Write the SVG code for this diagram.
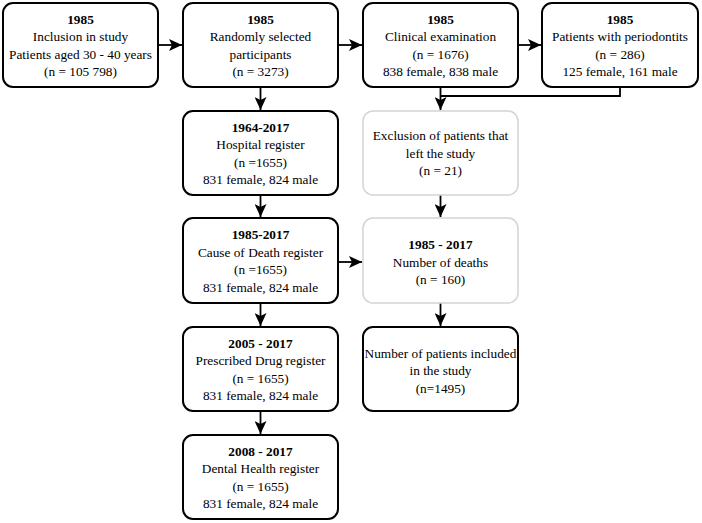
<svg xmlns="http://www.w3.org/2000/svg" width="702" height="523" viewBox="0 0 702 523">
<style>
.b{fill:#fff;stroke:#000;stroke-width:2}
.g{fill:#fff;stroke:#d4d4d4;stroke-width:1.5}
text{font-family:"Liberation Serif","Times New Roman",serif;font-size:13.3px;fill:#000;text-anchor:middle}
.h{font-weight:bold}
.c{fill:none;stroke:#000;stroke-width:1.8}
</style>
<defs>
<marker id="ah" markerUnits="userSpaceOnUse" markerWidth="14" markerHeight="12" refX="13" refY="6" orient="auto">
<path d="M0,0 L13,6 L0,12 L3,6 z" fill="#000"/>
</marker>
</defs>
<rect width="702" height="523" fill="#fff"/>
<g id="connectors">
<path class="c" d="M158,45 H182" marker-end="url(#ah)"/>
<path class="c" d="M338,45 H362" marker-end="url(#ah)"/>
<path class="c" d="M517,45 H541" marker-end="url(#ah)"/>
<path class="c" d="M620,87 V96 H440.5"/>
<path class="c" d="M440.5,87 V110" marker-end="url(#ah)"/>
<path class="c" d="M260.5,87 V110" marker-end="url(#ah)"/>
<path class="c" d="M260.5,195 V217" marker-end="url(#ah)"/>
<path class="c" d="M260.5,303 V326" marker-end="url(#ah)"/>
<path class="c" d="M260.5,411 V434" marker-end="url(#ah)"/>
<path class="c" d="M440.5,195 V217" marker-end="url(#ah)"/>
<path class="c" d="M440.5,303 V326" marker-end="url(#ah)"/>
<path class="c" d="M338,262 H362" marker-end="url(#ah)"/>
</g>
<g id="n1">
<rect class="b" x="3" y="3" width="155" height="84" rx="10"/>
<text x="80.5" y="23.5" class="h">1985</text>
<text x="80.5" y="41">Inclusion in study</text>
<text x="80.5" y="58.5">Patients aged 30 - 40 years</text>
<text x="80.5" y="76">(n = 105 798)</text>
</g>
<g id="n2">
<rect class="b" x="183" y="3" width="155" height="84" rx="10"/>
<text x="260.5" y="23.5" class="h">1985</text>
<text x="260.5" y="41">Randomly selected</text>
<text x="260.5" y="58.5">participants</text>
<text x="260.5" y="76">(n = 3273)</text>
</g>
<g id="n3">
<rect class="b" x="363" y="3" width="155" height="84" rx="10"/>
<text x="440.5" y="23.5" class="h">1985</text>
<text x="440.5" y="41">Clinical examination</text>
<text x="440.5" y="58.5">(n = 1676)</text>
<text x="440.5" y="76">838 female, 838 male</text>
</g>
<g id="n4">
<rect class="b" x="542" y="3" width="156" height="84" rx="10"/>
<text x="620" y="23.5" class="h">1985</text>
<text x="620" y="41">Patients with periodontits</text>
<text x="620" y="58.5">(n = 286)</text>
<text x="620" y="76">125 female, 161 male</text>
</g>
<g id="n5">
<rect class="b" x="183" y="111" width="155" height="84" rx="10"/>
<text x="260.5" y="131.5" class="h">1964-2017</text>
<text x="260.5" y="149">Hospital register</text>
<text x="260.5" y="166.5">(n =1655)</text>
<text x="260.5" y="184">831 female, 824 male</text>
</g>
<g id="n6">
<rect class="g" x="363" y="111" width="155" height="84" rx="10"/>
<text x="440.5" y="140">Exclusion of patients that</text>
<text x="440.5" y="157.5">left the study</text>
<text x="440.5" y="175">(n = 21)</text>
</g>
<g id="n7">
<rect class="b" x="183" y="218" width="155" height="85" rx="10"/>
<text x="260.5" y="239" class="h">1985-2017</text>
<text x="260.5" y="256.5">Cause of Death register</text>
<text x="260.5" y="274">(n =1655)</text>
<text x="260.5" y="291.5">831 female, 824 male</text>
</g>
<g id="n8">
<rect class="g" x="363" y="218" width="155" height="85" rx="10"/>
<text x="440.5" y="249" class="h">1985 - 2017</text>
<text x="440.5" y="266.5">Number of deaths</text>
<text x="440.5" y="284">(n = 160)</text>
</g>
<g id="n9">
<rect class="b" x="183" y="327" width="155" height="84" rx="10"/>
<text x="260.5" y="347.5" class="h">2005 - 2017</text>
<text x="260.5" y="365">Prescribed Drug register</text>
<text x="260.5" y="382.5">(n = 1655)</text>
<text x="260.5" y="400">831 female, 824 male</text>
</g>
<g id="n10">
<rect class="b" x="363" y="327" width="155" height="84" rx="10"/>
<text x="440.5" y="357.5">Number of patients included</text>
<text x="440.5" y="375">in the study</text>
<text x="440.5" y="392.5">(n=1495)</text>
</g>
<g id="n11">
<rect class="b" x="183" y="435" width="155" height="84" rx="10"/>
<text x="260.5" y="455.5" class="h">2008 - 2017</text>
<text x="260.5" y="473">Dental Health register</text>
<text x="260.5" y="490.5">(n = 1655)</text>
<text x="260.5" y="508">831 female, 824 male</text>
</g>
</svg>
